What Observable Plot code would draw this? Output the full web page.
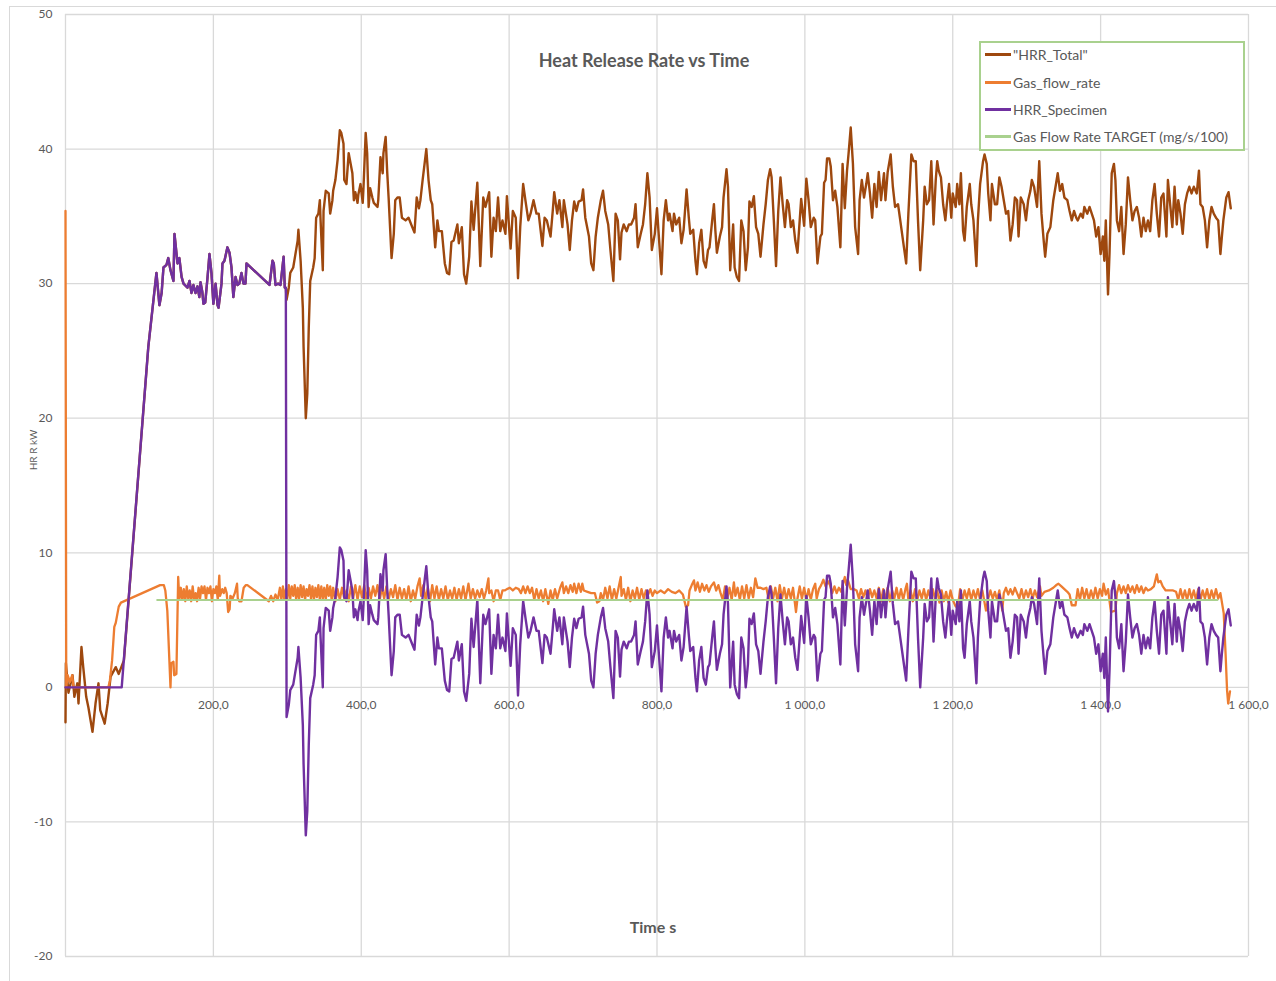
<!DOCTYPE html>
<html><head><meta charset="utf-8">
<script src="https://cdn.jsdelivr.net/npm/d3@7"></script>
<script src="https://cdn.jsdelivr.net/npm/@observablehq/plot@0.6"></script>
<style>
body{margin:0;background:#fff;font-family:Lato,"Open Sans",sans-serif;}
#wrap{position:relative;width:1276px;height:981px;overflow:hidden;background:#fff}
#frame{position:absolute;left:9px;top:6px;width:1280px;height:990px;border:1px solid #d9d9d9;box-sizing:border-box}
#chart{position:absolute;left:0;top:0}
.t{position:absolute;color:#595959;white-space:nowrap}
#title{left:0;width:1288px;top:49px;text-align:center;font-size:18px;font-weight:bold}
#xtitle{left:0;width:1306px;top:917px;text-align:center;font-size:16px;font-weight:bold}
#ytitle{left:33px;top:450px;font-size:10px;transform:translate(-50%,-50%) rotate(-90deg);transform-origin:center}
#legend{position:absolute;left:979px;top:41px;width:266px;height:110px;border:2px solid #a9d18e;box-sizing:border-box;background:#fff}
.row{position:absolute;left:4px;height:20px;display:flex;align-items:center}
.sw{width:26px;height:3px;margin-right:2px}
.lab{font-size:14px;color:#595959}
</style></head>
<body><div id="wrap"><div id="frame"></div><div id="chart"></div>
<div class="t" id="title">Heat Release Rate vs Time</div>
<div class="t" id="xtitle">Time s</div>
<div class="t" id="ytitle">HR R kW</div>
<div id="legend"></div>
</div>
<script>
const seriesNames = ["\"HRR_Total\"", "Gas_flow_rate", "HRR_Specimen", "Gas Flow Rate TARGET (mg/s/100)"];
const seriesColors = ["#9E480E", "#ED7D31", "#7030A0", "#A9D18E"];
const xTicks = [200, 400, 600, 800, 1000, 1200, 1400, 1600];
const xTickLabels = ["200,0", "400,0", "600,0", "800,0", "1 000,0", "1 200,0", "1 400,0", "1 600,0"];
const xGrid = [0, 200, 400, 600, 800, 1000, 1200, 1400, 1600];
const yTicks = [-20, -10, 0, 10, 20, 30, 40, 50];
const yTickLabels = ["-20", "-10", "0", "10", "20", "30", "40", "50"];

const hrrTotal = [
[0,-2.6],[0.5,1.8],[4,-0.4],[9.5,0.9],[12,-0.7],[16,0.3],[17.6,-1.2],[21.6,3.0],[24,1.5],[28,-0.7],[31,-1.5],[36.5,-3.3],[40.6,-1.2],[44.6,0.3],[47,-1.7],[53,-2.7],[57,-1.2],[61,0.8],[68,1.5],[72,1.0],[79,2.0],
[112,25.3],[123,30.8],[127,28.4],[130,29.3],[132.5,31.2],[136.6,31.4],[139,31.9],[142,31.0],[146,30.2],[147.4,33.7],[151.5,31.5],[154,31.9],[157,30.5],[159.6,30.0],[165,29.7],[167.7,30.2],[170.4,29.3],[173,29.9],[175.8,29.3],[178.5,29.8],[181,29.0],[182.6,30.1],[185,29.4],[186.6,28.5],[189,28.6],[192,30.4],[194.7,32.2],[197.4,30.8],[200,28.5],[203,30.0],[205.6,28.4],[207,28.2],[211,30.0],[212.3,31.5],[215,31.7],[219,32.7],[221.8,32.3],[224.5,31.2],[227,29.0],[230,30.5],[232.6,29.9],[235,30.0],[238,30.8],[240.7,30.0],[243.4,30.0],[244.8,31.5],[275.9,29.9],[280,31.7],[281.7,31.5],[284,29.9],[287.6,30.0],[290.8,29.9],[295,32.0],[296.6,29.7],[298,29.7],
[299,28.8],[302,29.7],[304,30.8],[308,31.2],[314,33.2],[315,34.0],[318,31.7],[321,28.2],[322,25.3],[325,20.0],[327,21.8],[329,26.7],[331,30.2],[335,31.2],[337,31.9],[339,34.9],[342,35.2],[344,36.2],[345,34.7],[348,31.0],[349,35.4],[352,36.9],[356,36.7],[358,35.2],[361,36.2],[362,36.9],[365,37.7],[368,39.2],[371,41.4],[373,41.2],[376,40.4],[377,37.7],[380,37.4],[383,39.7],[384,39.4],[388,38.2],[390,36.2],[392,36.8],[395,36.0],[396,36.6],[399,37.4],[402,36.0],[403,37.1],[406,41.2],[408,39.7],[410,35.7],[412,37.1],[415,36.4],[417,36.0],[422,35.7],[423,36.2],[426,39.4],[429,38.2],[430,39.7],[433,40.9],[435,38.4],[437,36.4],[441,31.9],[444,33.7],[446,36.2],[449,36.4],[452,36.4],[455,34.9],[460,34.7],[464,34.9],[469,34.2],[472,33.8],[475,36.4],[478,35.6],[480,36.2],[483,37.7],[488,40.0],[491,37.7],[494,36.2],[496,35.9],[500,32.7],[503,34.7],[505,33.9],[509,33.9],[513,31.5],[516,30.8],[519,30.7],[522,33.1],[525,33.2],[530,34.4],[532,33.0],[536,34.2],[539,30.7],[542,30.0],[546,32.0],[549,36.1],[552,34.0],[557,37.5],[561,31.3],[565,36.4],[568,35.7],[573,36.8],[576,32.0],[579,34.9],[582,33.9],[585,36.4],[588,33.9],[591,34.7],[595,33.7],[597,36.5],[602,32.6],[605,35.4],[609,34.9],[612,30.4],[615,34.2],[619,37.4],[622,36.2],[626,34.7],[629,35.2],[633,36.2],[637,35.2],[640,35.2],[645,32.8],[648,34.9],[651,34.7],[656,33.5],[659,35.4],[661,36.8],[665,35.2],[668,36.2],[672,34.2],[674,36.2],[679,34.4],[682,32.5],[685,34.7],[688,36.1],[691,35.4],[694,36.1],[698,36.2],[700,37.0],[703,34.9],[708,33.5],[711,31.5],[714,31.0],[717,33.5],[720,34.9],[724,36.2],[727,36.9],[730,35.4],[734,34.4],[737,32.5],[741,30.2],[744,35.2],[747,34.7],[750,31.8],[752,33.8],[755,34.4],[759,33.9],[762,34.4],[765,34.4],[769,34.9],[771,35.9],[774,32.7],[778,33.7],[781,34.4],[784,35.9],[787,38.2],[790,36.4],[793,32.5],[797,33.7],[800,35.6],[802,33.9],[806,30.7],[809,34.7],[812,36.2],[815,34.7],[817,35.2],[821,33.9],[823,35.2],[826,34.4],[830,34.9],[833,33.0],[836,34.0],[840,37.0],[843,34.9],[845,33.7],[849,34.0],[852,31.7],[854,30.7],[857,33.0],[860,34.0],[863,31.7],[866,31.2],[869,32.5],[871,32.7],[875,34.9],[877,35.9],[879,33.9],[881,32.3],[885,33.5],[888,34.2],[890,36.4],[894,38.5],[896,37.2],[899,31.0],[903,34.4],[905,31.2],[908,30.5],[911,30.2],[914,34.7],[917,33.9],[920,31.0],[923,32.7],[925,36.1],[928,35.7],[931,36.5],[934,34.2],[937,33.7],[940,32.0],[944,34.4],[947,35.9],[950,37.7],[953,38.5],[955,37.9],[958,34.7],[961,31.3],[964,35.4],[967,37.9],[970,35.9],[973,34.2],[976,36.2],[978,35.9],[981,34.2],[984,34.7],[987,33.2],[990,32.3],[993,34.7],[995,36.3],[999,34.3],[1002,37.8],[1005,36.2],
[1008,34.2],[1012,34.9],[1014,34.7],[1017,31.5],[1021,33.5],[1023,33.7],[1026,37.5],[1028,37.7],[1030,39.3],[1033,39.3],[1035,38.7],[1038,36.2],[1041,36.9],[1044,35.7],[1048,32.7],[1051,38.9],[1054,35.6],[1057,38.4],[1059,39.6],[1062,41.6],[1065,38.9],[1068,34.2],[1072,32.2],[1074,36.2],[1077,37.7],[1080,36.4],[1083,37.4],[1085,38.2],[1088,36.7],[1091,34.9],[1094,37.4],[1097,35.7],[1100,38.3],[1103,36.2],[1107,38.2],[1109,36.2],[1112,38.3],[1116,39.6],[1119,37.2],[1122,35.7],[1126,35.9],[1129,34.7],[1134,32.7],[1137,31.5],[1140,35.2],[1144,39.6],[1147,39.1],[1150,39.1],[1153,34.7],[1156,31.0],[1160,34.7],[1162,37.2],[1165,35.9],[1168,36.2],[1171,39.1],[1174,34.4],[1177,37.7],[1179,39.1],[1181,38.4],[1184,37.9],[1187,35.9],[1190,34.7],[1192,35.9],[1195,37.4],[1198,34.9],[1200,36.7],[1204,35.7],[1206,37.4],[1209,35.9],[1211,38.2],[1214,33.9],[1216,33.2],[1219,35.7],[1223,37.4],[1225,35.9],[1228,34.7],[1232,31.3],[1234,34.7],[1237,37.4],[1241,39.1],[1243,39.6],[1246,38.9],[1248,36.7],[1251,34.7],[1253,37.4],[1257,35.9],[1260,35.9],[1263,37.9],[1266,37.2],[1269,36.2],[1272,35.2],[1275,35.4],[1278,33.2],[1281,34.4],[1284,36.4],[1287,36.2],[1289,33.5],[1292,36.4],[1296,35.9],[1299,34.7],[1302,36.2],[1305,36.9],[1307,37.7],[1310,37.2],[1314,35.7],[1317,39.1],[1320,35.2],[1323,33.2],[1325,32.0],[1328,33.7],[1332,34.2],[1336,36.2],[1339,37.2],[1342,38.2],[1345,36.9],[1348,37.4],[1351,36.4],[1355,36.2],[1358,35.4],[1361,34.7],[1364,35.4],[1367,34.9],[1369,34.7],[1373,35.2],[1376,34.9],[1378,35.7],[1382,35.2],[1385,35.7],[1388,35.2],[1391,34.7],[1394,33.5],[1397,34.2],[1400,32.2],[1403,33.5],[1405,31.7],[1407,34.7],[1410,29.2],[1412,32.2],[1415,38.2],[1418,38.9],[1420,37.7],[1422,34.7],[1425,33.9],[1428,35.7],[1431,32.2],[1434,34.4],[1437,37.9],[1440,36.2],[1443,34.7],[1446,35.4],[1449,35.7],[1452,34.9],[1455,33.5],[1458,34.9],[1461,33.9],[1464,34.7],[1467,33.9],[1470,36.2],[1473,37.4],[1476,35.2],[1479,33.5],[1482,36.4],[1485,36.7],[1489,33.5],[1491,37.7],[1494,35.9],[1497,34.2],[1500,37.2],[1503,34.4],[1505,36.2],[1508,35.2],[1511,33.7],[1514,35.9],[1517,36.7],[1520,37.2],[1523,36.7],[1526,37.2],[1530,36.7],[1533,38.4],[1535,35.9],[1538,35.7],[1541,34.7],[1544,32.7],[1547,34.7],[1550,35.7],[1553,35.2],[1556,34.9],[1559,34.7],[1562,32.2],[1564,33.5],[1566,34.7],[1570,36.4],[1573,36.8],[1576,35.6]
];

const gasFlowRate = [
[0,35.4],[1,0.0],[3,0.9],[6,0.4],[9,0.9],[11,0.0],[58,0.0],[60,0.5],[63,2.0],[66,4.5],[68,4.8],[72,6.0],[75,6.3],[128,7.6],[133,7.6],[135,7.2],[137.7,5.7],[142,0.0],[143,1.8],[146,1.9],[147,0.9],[150,1.0],[152.4,8.2],[154,6.5],
[156,7.4],[158,6.5],[160,7.3],[162,6.4],[164,7.5],[166,6.6],[168,7.2],[170,6.4],[172,7.5],[174,6.5],[176,7.0],[178,6.4],[180,7.4],[182,6.6],
[184,7.5],[186,7.0],[188,7.5],[190,6.5],[192,7.4],[194,7.0],[196,7.5],[198,6.4],[200,7.3],[202,7.0],[204,7.5],[206,6.5],[208,8.3],[209,6.8],
[212,7.3],[214,7.0],[216,7.4],[218,7.0],[220,5.6],[222,5.8],[223,6.8],[226,6.6],[229,7.0],[232,7.7],[233,6.6],[235,6.4],[238,6.4],[241,7.4],[244,7.6],[246,7.6],
[275,6.4],[278,6.8],[281,6.4],[284,6.9],[287,6.5],[290,7.4],[292,6.5],
[294,7.5],[296,6.5],[298,7.3],[300,6.6],[302,7.6],[304,6.6],[306,7.5],[308,6.8],[310,7.6],[312,6.5],[314,7.4],[316,6.6],[318,7.6],[320,6.7],[322,7.5],[324,6.5],[326,7.3],[328,6.8],[330,7.6],[332,6.6],[334,7.5],[336,6.5],[338,7.4],[340,6.7],[342,7.6],[344,6.5],[346,7.5],[348,6.6],[350,7.4],[352,6.5],[354,7.6],[356,6.8],[358,7.5],[360,6.5],[362,7.4],
[365,6.4],[368,7.3],[371,6.5],[374,7.4],[377,6.6],[380,7.2],[383,6.4],[386,7.5],[389,6.6],
[392,7.6],[395,6.5],[398,7.5],[401,6.7],[404,7.6],[407,6.5],[410,7.4],[413,6.6],[416,7.5],[419,6.8],[422,7.6],[425,6.5],
[428,7.4],[431,6.6],[434,7.5],[437,6.5],[440,7.3],[443,6.7],[446,7.6],[449,6.5],[452,7.4],[455,6.6],[458,7.3],[461,6.5],[464,7.5],[467,6.4],[470,7.2],[473,6.6],[476,7.5],[479,8.1],[481,6.8],
[484,7.6],[487,6.5],[490,7.4],[493,6.4],[496,7.6],
[499,6.6],[502,7.5],[505,6.5],[508,7.3],[511,6.6],[514,7.5],[517,6.5],[520,7.2],[523,6.6],[526,7.4],[529,6.5],[532,7.3],[535,6.6],[538,7.5],[541,6.5],[545,7.7],
[548,6.6],[551,7.3],[554,6.6],[557,7.2],[560,6.7],[563,7.3],[566,6.6],[569,7.2],[572,8.1],[573,7.0],
[576,7.2],[579,6.4],[582,7.2],[585,7.2],[588,6.5],[591,7.2],[594,7.2],[597,7.3],[601,7.4],[605,7.2],[609,7.4],[613,7.3],
[616,7.0],[619,7.5],[622,7.0],[625,7.5],[628,7.0],[631,7.4],
[634,6.5],[637,7.3],[640,6.6],[643,7.2],[646,6.4],[649,7.3],[653,6.2],[656,7.2],[659,6.5],[662,7.3],[665,6.6],
[669,7.4],[672,7.8],[674,7.0],[677,7.5],[680,7.0],[683,7.6],[686,7.1],[688,7.7],[691,7.0],[694,7.7],[697,7.1],[699,7.7],[701,7.2],
[706,7.1],[711,7.0],[716,7.0],[719,6.3],[722,6.4],[724,7.0],
[727,6.5],[730,7.4],[733,6.6],[736,7.5],[739,6.5],[742,7.3],[745,6.6],[748,7.4],[751,8.2],[752,6.8],
[755,7.3],[758,6.5],[761,7.4],[764,6.4],[767,7.2],[770,6.6],[773,7.4],[776,6.5],[779,7.3],[782,6.6],
[785,7.2],[788,6.9],[791,7.3],[794,6.8],[797,7.2],[800,7.0],[805,7.2],[810,7.0],[815,7.3],[820,7.1],[825,7.0],[830,7.2],[835,6.9],
[839,6.0],[842,6.1],[844,7.2],
[847,7.6],[850,7.95],[852,7.2],[855,7.8],[858,7.1],[861,7.7],[864,7.2],[867,7.6],[870,7.1],[873,7.5],[877,7.8],[880,7.2],[883,7.6],[886,7.0],
[889,6.5],[892,7.5],[895,6.6],[898,7.4],[901,6.5],[904,7.8],[906,6.8],[909,7.4],[912,6.5],[915,7.5],[918,6.6],[921,7.6],[924,6.6],[927,7.4],[930,6.7],[933,8.1],
[936,7.4],[940,7.4],[944,7.3],[948,7.4],
[951,6.5],[954,7.5],[957,6.6],[960,7.4],[963,6.4],[966,7.6],[969,6.6],[972,7.4],[975,6.5],[978,7.3],[981,6.6],[984,7.4],[988,5.6],[990,6.6],
[993,7.5],[996,6.6],[999,7.4],[1002,6.5],[1005,7.3],[1008,6.5],[1011,7.3],[1014,7.7],[1016,6.6],[1019,7.3],
[1022,7.6],[1025,8.0],[1028,7.5],[1031,7.9],[1034,7.6],
[1037,7.0],[1040,7.5],[1043,7.0],[1046,7.4],[1049,7.1],
[1052,7.8],[1054,8.2],[1056,7.6],[1058,8.0],[1062,7.3],[1066,7.3],[1070,7.2],
[1073,6.6],[1076,7.3],[1079,6.7],[1082,7.2],[1085,6.6],[1088,7.3],[1091,6.7],[1094,7.2],[1097,6.6],
[1100,7.4],[1103,6.4],[1106,7.3],[1109,6.5],[1112,7.4],[1115,6.4],[1118,7.2],[1121,6.6],[1124,7.4],[1127,6.5],[1130,7.3],[1133,6.5],
[1136,7.3],[1138,7.7],[1140,6.5],[1143,7.2],[1146,6.4],[1149,7.3],[1152,6.5],[1155,7.2],[1158,6.6],[1161,7.3],[1164,6.5],
[1167,7.2],[1170,6.6],[1173,7.3],[1176,6.6],
[1179,7.2],[1182,6.3],[1185,7.2],[1188,6.4],[1191,7.1],[1194,6.3],[1197,7.2],[1200,6.5],[1204,6.0],[1207,6.0],
[1210,7.3],[1213,6.5],[1216,7.2],[1219,6.6],[1222,7.3],[1225,6.5],[1228,7.2],[1231,6.6],[1234,7.3],[1237,6.5],[1240,7.2],
[1245,5.7],[1248,6.6],[1251,7.2],[1254,6.6],[1257,7.1],[1260,6.5],[1263,7.2],[1267,5.7],[1269,7.0],
[1272,7.4],[1275,6.9],[1278,7.3],[1281,6.9],[1284,7.4],[1287,7.0],
[1290,6.6],[1293,7.3],[1296,6.6],[1299,7.2],[1302,6.7],[1305,7.3],[1308,6.6],[1311,7.2],[1314,6.7],[1318,7.5],[1320,6.8],
[1324,7.1],[1330,7.2],[1336,7.4],[1340,7.6],[1343,7.7],[1347,7.5],[1351,7.3],[1355,7.1],[1358,6.9],[1361,6.1],[1366,6.1],
[1369,7.3],[1372,6.5],[1375,7.4],[1378,6.6],[1381,7.3],[1384,6.5],[1387,7.2],[1390,6.6],[1393,7.4],[1396,6.6],[1399,7.3],[1402,6.8],[1404,7.7],[1407,6.9],[1410,7.3],
[1414,5.6],[1420,5.7],[1422,7.0],
[1425,7.6],[1428,7.0],[1431,7.5],[1434,7.0],[1437,7.6],[1440,7.1],[1443,7.5],[1446,7.0],[1449,7.6],[1452,7.1],[1455,7.5],[1458,7.0],[1461,7.4],
[1464,7.2],[1468,7.3],[1472,7.5],[1476,8.4],[1478,7.8],[1481,7.9],[1484,7.5],[1488,7.2],[1493,7.2],[1498,7.2],[1502,7.1],
[1505,6.5],[1508,7.3],[1511,6.6],[1514,7.2],[1517,6.5],[1520,7.3],[1523,6.6],[1526,7.2],[1529,6.5],[1532,7.3],[1535,6.5],[1538,7.2],[1541,6.6],[1544,7.3],[1547,6.5],[1550,7.2],[1553,6.6],[1556,7.3],[1559,6.6],[1562,7.0],
[1566.5,5.5],[1569,2.5],[1571,-0.2],[1572.5,-1.2],[1575,-0.3]
];

const hrrSpecimen = [
[0,0],[76,0],[112,25.3],[123,30.8],[127,28.4],[130,29.3],[132.5,31.2],[136.6,31.4],[139,31.9],[142,31.0],[146,30.2],[147.4,33.7],[151.5,31.5],[154,31.9],[157,30.5],[159.6,30.0],[165,29.7],[167.7,30.2],[170.4,29.3],[173,29.9],[175.8,29.3],[178.5,29.8],[181,29.0],[182.6,30.1],[185,29.4],[186.6,28.5],[189,28.6],[192,30.4],[194.7,32.2],[197.4,30.8],[200,28.5],[203,30.0],[205.6,28.4],[207,28.2],[211,30.0],[212.3,31.5],[215,31.7],[219,32.7],[221.8,32.3],[224.5,31.2],[227,29.0],[230,30.5],[232.6,29.9],[235,30.0],[238,30.8],[240.7,30.0],[243.4,30.0],[244.8,31.5],[275.9,29.9],[280,31.7],[281.7,31.5],[284,29.9],[287.6,30.0],[290.8,29.9],[295,32.0],[296.6,29.7],[298,29.7],
[299,-2.2],[302,-1.3],[304,-0.2],[308,0.2],[314,2.2],[315,3.0],[318,0.7],[321,-2.8],[322,-5.7],[325,-11.0],[327,-9.2],[329,-4.3],[331,-0.8],[335,0.2],[337,0.9],[339,3.9],[342,4.2],[344,5.2],[345,3.7],[348,0.0],[349,4.4],[352,5.9],[356,5.7],[358,4.2],[361,5.2],[362,5.9],[365,6.7],[368,8.2],[371,10.4],[373,10.2],[376,9.4],[377,6.7],[380,6.4],[383,8.7],[384,8.4],[388,7.2],[390,5.2],[392,5.8],[395,5.0],[396,5.6],[399,6.4],[402,5.0],[403,6.1],[406,10.2],[408,8.7],[410,4.7],[412,6.1],[415,5.4],[417,5.0],[422,4.7],[423,5.2],[426,8.4],[429,7.2],[430,8.7],[433,9.9],[435,7.4],[437,5.4],[441,0.9],[444,2.7],[446,5.2],[449,5.4],[452,5.4],[455,3.9],[460,3.7],[464,3.9],[469,3.2],[472,2.8],[475,5.4],[478,4.6],[480,5.2],[483,6.7],[488,9.0],[491,6.7],[494,5.2],[496,4.9],[500,1.7],[503,3.7],[505,2.9],[509,2.9],[513,0.5],[516,-0.2],[519,-0.3],[522,2.1],[525,2.2],[530,3.4],[532,2.0],[536,3.2],[539,-0.3],[542,-1.0],[546,1.0],[549,5.1],[552,3.0],[557,6.5],[561,0.3],[565,5.4],[568,4.7],[573,5.8],[576,1.0],[579,3.9],[582,2.9],[585,5.4],[588,2.9],[591,3.7],[595,2.7],[597,5.5],[602,1.6],[605,4.4],[609,3.9],[612,-0.6],[615,3.2],[619,6.4],[622,5.2],[626,3.7],[629,4.2],[633,5.2],[637,4.2],[640,4.2],[645,1.8],[648,3.9],[651,3.7],[656,2.5],[659,4.4],[661,5.8],[665,4.2],[668,5.2],[672,3.2],[674,5.2],[679,3.4],[682,1.5],[685,3.7],[688,5.1],[691,4.4],[694,5.1],[698,5.2],[700,6.0],[703,3.9],[708,2.5],[711,0.5],[714,0.0],[717,2.5],[720,3.9],[724,5.2],[727,5.9],[730,4.4],[734,3.4],[737,1.5],[741,-0.8],[744,4.2],[747,3.7],[750,0.8],[752,2.8],[755,3.4],[759,2.9],[762,3.4],[765,3.4],[769,3.9],[771,4.9],[774,1.7],[778,2.7],[781,3.4],[784,4.9],[787,7.2],[790,5.4],[793,1.5],[797,2.7],[800,4.6],[802,2.9],[806,-0.3],[809,3.7],[812,5.2],[815,3.7],[817,4.2],[821,2.9],[823,4.2],[826,3.4],[830,3.9],[833,2.0],[836,3.0],[840,6.0],[843,3.9],[845,2.7],[849,3.0],[852,0.7],[854,-0.3],[857,2.0],[860,3.0],[863,0.7],[866,0.2],[869,1.5],[871,1.7],[875,3.9],[877,4.9],[879,2.9],[881,1.3],[885,2.5],[888,3.2],[890,5.4],[894,7.5],[896,6.2],[899,0.0],[903,3.4],[905,0.2],[908,-0.5],[911,-0.8],[914,3.7],[917,2.9],[920,0.0],[923,1.7],[925,5.1],[928,4.7],[931,5.5],[934,3.2],[937,2.7],[940,1.0],[944,3.4],[947,4.9],[950,6.7],[953,7.5],[955,6.9],[958,3.7],[961,0.3],[964,4.4],[967,6.9],[970,4.9],[973,3.2],[976,5.2],[978,4.9],[981,3.2],[984,3.7],[987,2.2],[990,1.3],[993,3.7],[995,5.3],[999,3.3],[1002,6.8],[1005,5.2],
[1008,3.2],[1012,3.9],[1014,3.7],[1017,0.5],[1021,2.5],[1023,2.7],[1026,6.5],[1028,6.7],[1030,8.3],[1033,8.3],[1035,7.7],[1038,5.2],[1041,5.9],[1044,4.7],[1048,1.7],[1051,7.9],[1054,4.6],[1057,7.4],[1059,8.6],[1062,10.6],[1065,7.9],[1068,3.2],[1072,1.2],[1074,5.2],[1077,6.7],[1080,5.4],[1083,6.4],[1085,7.2],[1088,5.7],[1091,3.9],[1094,6.4],[1097,4.7],[1100,7.3],[1103,5.2],[1107,7.2],[1109,5.2],[1112,7.3],[1116,8.6],[1119,6.2],[1122,4.7],[1126,4.9],[1129,3.7],[1134,1.7],[1137,0.5],[1140,4.2],[1144,8.6],[1147,8.1],[1150,8.1],[1153,3.7],[1156,0.0],[1160,3.7],[1162,6.2],[1165,4.9],[1168,5.2],[1171,8.1],[1174,3.4],[1177,6.7],[1179,8.1],[1181,7.4],[1184,6.9],[1187,4.9],[1190,3.7],[1192,4.9],[1195,6.4],[1198,3.9],[1200,5.7],[1204,4.7],[1206,6.4],[1209,4.9],[1211,7.2],[1214,2.9],[1216,2.2],[1219,4.7],[1223,6.4],[1225,4.9],[1228,3.7],[1232,0.3],[1234,3.7],[1237,6.4],[1241,8.1],[1243,8.6],[1246,7.9],[1248,5.7],[1251,3.7],[1253,6.4],[1257,4.9],[1260,4.9],[1263,6.9],[1266,6.2],[1269,5.2],[1272,4.2],[1275,4.4],[1278,2.2],[1281,3.4],[1284,5.4],[1287,5.2],[1289,2.5],[1292,5.4],[1296,4.9],[1299,3.7],[1302,5.2],[1305,5.9],[1307,6.7],[1310,6.2],[1314,4.7],[1317,8.1],[1320,4.2],[1323,2.2],[1325,1.0],[1328,2.7],[1332,3.2],[1336,5.2],[1339,6.2],[1342,7.2],[1345,5.9],[1348,6.4],[1351,5.4],[1355,5.2],[1358,4.4],[1361,3.7],[1364,4.4],[1367,3.9],[1369,3.7],[1373,4.2],[1376,3.9],[1378,4.7],[1382,4.2],[1385,4.7],[1388,4.2],[1391,3.7],[1394,2.5],[1397,3.2],[1400,1.2],[1403,2.5],[1405,0.7],[1407,3.7],[1410,-1.8],[1412,1.2],[1415,7.2],[1418,7.9],[1420,6.7],[1422,3.7],[1425,2.9],[1428,4.7],[1431,1.2],[1434,3.4],[1437,6.9],[1440,5.2],[1443,3.7],[1446,4.4],[1449,4.7],[1452,3.9],[1455,2.5],[1458,3.9],[1461,2.9],[1464,3.7],[1467,2.9],[1470,5.2],[1473,6.4],[1476,4.2],[1479,2.5],[1482,5.4],[1485,5.7],[1489,2.5],[1491,6.7],[1494,4.9],[1497,3.2],[1500,6.2],[1503,3.4],[1505,5.2],[1508,4.2],[1511,2.7],[1514,4.9],[1517,5.7],[1520,6.2],[1523,5.7],[1526,6.2],[1530,5.7],[1533,7.4],[1535,4.9],[1538,4.7],[1541,3.7],[1544,1.7],[1547,3.7],[1550,4.7],[1553,4.2],[1556,3.9],[1559,3.7],[1562,1.2],[1564,2.5],[1566,3.7],[1570,5.4],[1573,5.8],[1576,4.6]
];

const gasTarget = [[124,6.5],[1558,6.5]];

const rows = a => a.map(([t, v]) => ({t, v}));
const seriesData = [hrrTotal, gasFlowRate, hrrSpecimen, gasTarget];
const seriesWidths = [2.4, 2.3, 2.4, 2];

const chart = Plot.plot({
  width: 1276,
  height: 981,
  marginLeft: 65,
  marginRight: 28,
  marginTop: 14,
  marginBottom: 25,
  style: {fontFamily: "Lato, 'Open Sans', sans-serif", background: "transparent", color: "#595959"},
  x: {domain: [0, 1600], axis: null},
  y: {domain: [-20, 50], axis: null},
  marks: [
    Plot.gridX(xGrid, {stroke: "#d9d9d9", strokeOpacity: 1, strokeWidth: 1.3}),
    Plot.gridY(yTicks, {stroke: "#d9d9d9", strokeOpacity: 1, strokeWidth: 1.3}),
    Plot.text(yTicks, {x: 0, y: d => d, text: (d, i) => yTickLabels[i], textAnchor: "end", dx: -13, fill: "#595959", fontSize: 12}),
    Plot.text(xTicks, {x: d => d, y: 0, text: (d, i) => xTickLabels[i], dy: 18, fill: "#595959", fontSize: 12}),
    ...seriesData.map((s, k) => Plot.line(rows(s), {x: "t", y: "v", stroke: seriesColors[k], strokeWidth: seriesWidths[k], strokeLinejoin: "round"}))
  ]
});
document.getElementById("chart").appendChild(chart);

const legend = document.getElementById("legend");
const rowTops = [1, 29, 56, 83];
seriesNames.forEach((name, k) => {
  const r = document.createElement("div");
  r.className = "row";
  r.style.top = rowTops[k] + "px";
  const sw = document.createElement("span");
  sw.className = "sw";
  sw.style.background = seriesColors[k];
  const lab = document.createElement("span");
  lab.className = "lab";
  lab.textContent = name;
  r.appendChild(sw); r.appendChild(lab);
  legend.appendChild(r);
});
</script>
</body></html>
